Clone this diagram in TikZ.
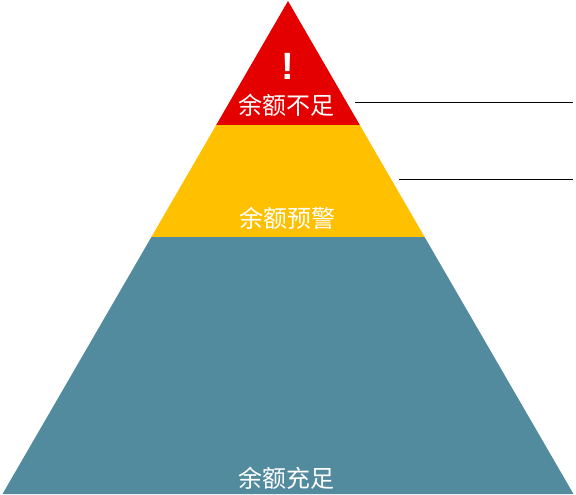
\documentclass[tikz,border=0pt]{standalone}
\usepackage{fontspec}
\setmainfont{Liberation Sans}
\newfontfamily\cjk{Noto Sans CJK SC}
\definecolor{tierred}{HTML}{E50000}
\definecolor{tieryellow}{HTML}{FFC000}
\definecolor{tierteal}{HTML}{528B9E}
\begin{document}
\begin{tikzpicture}[x=1pt,y=-1pt,
  tierlabel/.style={text=white,font=\cjk\fontsize{24}{27}\selectfont,inner sep=0pt,anchor=center},
  leader/.style={draw=black,line width=0.8pt}]
\useasboundingbox (0,0) rectangle (576,495);
% pyramid corners
\coordinate (apex) at (288,1);
\coordinate (rl) at (216.2,125);
\coordinate (rr) at (359.8,125);
\coordinate (yl) at (151.4,237);
\coordinate (yr) at (424.6,237);
\coordinate (bl) at (2.5,494);
\coordinate (br) at (573.5,494);
\fill[tierred] (apex) -- (rr) -- (rl) -- cycle;
\fill[tieryellow] (rl) -- (rr) -- (yr) -- (yl) -- cycle;
\fill[tierteal] (yl) -- (yr) -- (br) -- (bl) -- cycle;
% labels
\node[text=white,font=\bfseries\fontsize{38}{42}\selectfont,inner sep=0pt] (excl) at (288,66) {!};
\node[tierlabel] (t1) at (286,105) {余额不足};
\node[tierlabel] (t2) at (287,218) {余额预警};
\node[tierlabel] (t3) at (286,478) {余额充足};
% leader lines
\coordinate (l1a) at (355,102);
\coordinate (l1b) at (573,102);
\coordinate (l2a) at (399,179);
\coordinate (l2b) at (573,179);
\draw[leader] (l1a) -- (l1b);
\draw[leader] (l2a) -- (l2b);
\end{tikzpicture}
\end{document}
